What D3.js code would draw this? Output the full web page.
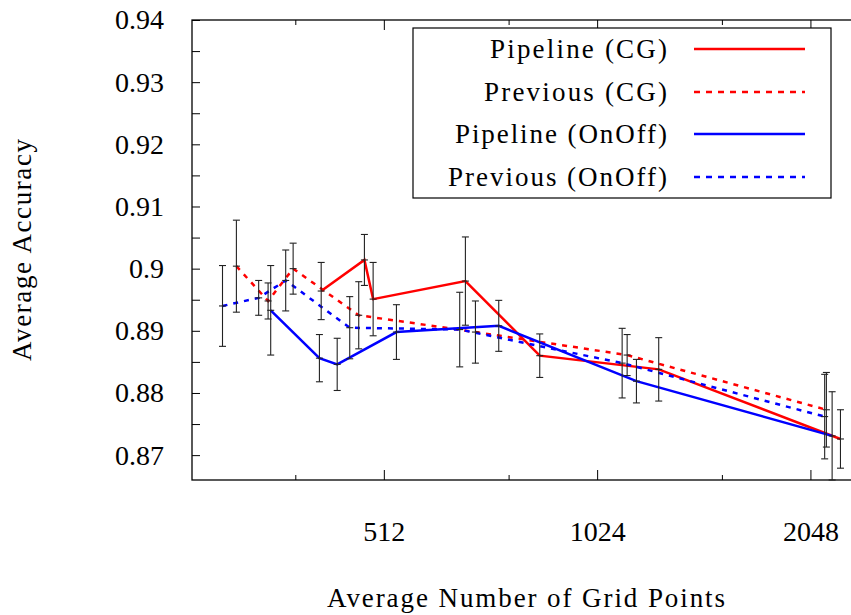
<!DOCTYPE html>
<html><head><meta charset="utf-8">
<script src="https://cdn.jsdelivr.net/npm/d3@7"></script>
<style>
body{margin:0;background:#fff}
svg{display:block}
text{font-family:"Liberation Serif","Times New Roman",serif;fill:#000}
</style>
</head><body>
<svg id="c" width="851" height="615"></svg>
<script>
// ---------- data ----------
const seriesNames = ["Pipeline (CG)", "Previous (CG)", "Pipeline (OnOff)", "Previous (OnOff)"];
const seriesColors = ["#ff0000", "#ff0000", "#0000ff", "#0000ff"];
const seriesDashed = [false, true, false, true];

const pipelineCG_x   = [417.7, 480.7, 494.5, 667.4, 849.8, 1250.9, 2258];
const pipelineCG_y   = [0.8964, 0.9014, 0.8951, 0.8980, 0.8860, 0.8838, 0.8726];
const pipelineCG_err = [0.0046, 0.0041, 0.0059, 0.0071, 0.0035, 0.0051, 0.0047];

const previousCG_x   = [317.1, 351.5, 381.3, 471.9, 689.5, 1128.9, 2157];
const previousCG_y   = [0.9004, 0.8948, 0.9000, 0.8925, 0.8898, 0.8861, 0.8773];
const previousCG_err = [0.0074, 0.0029, 0.0041, 0.0054, 0.0050, 0.0033, 0.0060];

const pipelineOnOff_x   = [354.5, 415.3, 440.0, 533.4, 743.8, 1163.5, 2197.6];
const pipelineOnOff_y   = [0.8933, 0.8856, 0.8846, 0.8898, 0.8908, 0.8819, 0.8731];
const pipelineOnOff_err = [0.0072, 0.0038, 0.0042, 0.0044, 0.0041, 0.0035, 0.0071];

const previousOnOff_x   = [303.1, 340.9, 372.2, 458.3, 655.2, 1110.7, 2145];
const previousOnOff_y   = [0.8940, 0.8953, 0.8981, 0.8905, 0.8902, 0.8848, 0.8762];
const previousOnOff_err = [0.0065, 0.0028, 0.0049, 0.0050, 0.0060, 0.0056, 0.0068];

const xTickValues = [512, 1024, 2048];
const xTickLabels = ["512", "1024", "2048"];
const xMinorTicks = [384, 768, 1536];
const yTickValues = [0.87, 0.88, 0.89, 0.90, 0.91, 0.92, 0.93, 0.94];
const yTickLabels = ["0.87", "0.88", "0.89", "0.9", "0.91", "0.92", "0.93", "0.94"];
const yMinorTicks = [0.875, 0.885, 0.895, 0.905, 0.915, 0.925, 0.935];
const xTitle = "Average Number of Grid Points";
const yTitle = "Average Accuracy";

// ---------- layout ----------
const svg = d3.select("#c");
const mLeft = 192, mTop = 20, mBottom = 480;
const pxPerOctave = 213.3;
const xMin = 274.5, xMax = 2600;
const mRight = mLeft + pxPerOctave * Math.log2(xMax / xMin);

const x = d3.scaleLog().base(2).domain([xMin, xMax]).range([mLeft, mRight]);
const y = d3.scaleLinear().domain([0.866, 0.94]).range([mBottom, mTop]);

const series = [
  {x: pipelineCG_x, y: pipelineCG_y, e: pipelineCG_err},
  {x: previousCG_x, y: previousCG_y, e: previousCG_err},
  {x: pipelineOnOff_x, y: pipelineOnOff_y, e: pipelineOnOff_err},
  {x: previousOnOff_x, y: previousOnOff_y, e: previousOnOff_err}
].map((s, i) => ({
  name: seriesNames[i], color: seriesColors[i], dashed: seriesDashed[i],
  pts: s.x.map((xv, j) => ({x: xv, y: s.y[j], e: s.e[j]}))
}));

// ---------- axes ----------
const fs = 28;
const yAxis = d3.axisLeft(y).tickValues(yTickValues)
  .tickFormat((d, i) => yTickLabels[i]).tickSizeInner(-8).tickSizeOuter(0).tickPadding(28);
const gy = svg.append("g").attr("transform", `translate(${mLeft},0)`).call(yAxis);
gy.select(".domain").remove();
gy.selectAll("text").attr("font-size", fs);

const gyMinor = svg.append("g").attr("transform", `translate(${mLeft},0)`)
  .call(d3.axisLeft(y).tickValues(yMinorTicks).tickFormat("").tickSizeInner(-8).tickSizeOuter(0));
gyMinor.select(".domain").remove();

const xAxis = d3.axisBottom(x).tickValues(xTickValues)
  .tickFormat((d, i) => xTickLabels[i]).tickSizeInner(-10).tickSizeOuter(0).tickPadding(41);
const gx = svg.append("g").attr("transform", `translate(0,${mBottom})`).call(xAxis);
gx.select(".domain").remove();
gx.selectAll("text").attr("font-size", fs);

const gxMinor = svg.append("g").attr("transform", `translate(0,${mBottom})`)
  .call(d3.axisBottom(x).tickValues(xMinorTicks).tickFormat("").tickSizeInner(-5).tickSizeOuter(0));
gxMinor.select(".domain").remove();

const gxTop = svg.append("g").attr("transform", `translate(0,${mTop})`)
  .call(d3.axisTop(x).tickValues(xTickValues).tickFormat("").tickSizeInner(-10).tickSizeOuter(0));
gxTop.select(".domain").remove();
const gxTopMinor = svg.append("g").attr("transform", `translate(0,${mTop})`)
  .call(d3.axisTop(x).tickValues(xMinorTicks).tickFormat("").tickSizeInner(-5).tickSizeOuter(0));
gxTopMinor.select(".domain").remove();

svg.selectAll("g.tick text").attr("font-family", null);
svg.selectAll("g.tick line").attr("stroke", "#000").attr("stroke-width", 1);
svg.selectAll("g").attr("font-family", null);

// frame
svg.append("rect").attr("x", mLeft).attr("y", mTop)
  .attr("width", mRight - mLeft).attr("height", mBottom - mTop)
  .attr("fill", "none").attr("stroke", "#000").attr("stroke-width", 1.3);

// titles
svg.append("text").attr("x", 526).attr("y", 607).attr("text-anchor", "middle")
  .attr("font-size", 27).attr("textLength", 398).attr("lengthAdjust", "spacing").text(xTitle);
svg.append("text").attr("transform", "translate(31,250) rotate(-90)").attr("text-anchor", "middle")
  .attr("font-size", 27).attr("textLength", 222).attr("lengthAdjust", "spacing").text(yTitle);

// ---------- plot ----------
const plot = svg.append("g");
const line = d3.line().x(d => x(d.x)).y(d => y(d.y));

series.forEach(s => {
  plot.append("path").datum(s.pts).attr("d", line)
    .attr("fill", "none").attr("stroke", s.color).attr("stroke-width", 2.5)
    .attr("stroke-dasharray", s.dashed ? "5,6" : null);
});

const cap = 3.5;
series.forEach(s => {
  const g = plot.append("g").attr("stroke", "#222").attr("stroke-width", 1.1);
  s.pts.forEach(p => {
    const cx = x(p.x), y1 = y(p.y + p.e), y0 = y(p.y - p.e), cy = y(p.y);
    g.append("line").attr("x1", cx).attr("x2", cx).attr("y1", y1).attr("y2", y0);
    g.append("line").attr("x1", cx - cap).attr("x2", cx + cap).attr("y1", y1).attr("y2", y1);
    g.append("line").attr("x1", cx - cap).attr("x2", cx + cap).attr("y1", y0).attr("y2", y0);
    g.append("line").attr("x1", cx - cap).attr("x2", cx + cap).attr("y1", cy).attr("y2", cy);
  });
});

// ---------- legend ----------
const leg = svg.append("g");
leg.append("rect").attr("x", 413).attr("y", 28).attr("width", 418).attr("height", 170)
  .attr("fill", "#fff").attr("stroke", "#000").attr("stroke-width", 1.2);
const legRowY = [49, 92, 134, 177];
const legTextW = [177, 183, 212, 219];
series.forEach((s, i) => {
  leg.append("text").attr("x", 667).attr("y", legRowY[i]).attr("dy", "0.33em")
    .attr("text-anchor", "end").attr("font-size", 27)
    .attr("textLength", legTextW[i]).attr("lengthAdjust", "spacing").text(s.name);
  leg.append("line").attr("x1", 694).attr("x2", 805).attr("y1", legRowY[i]).attr("y2", legRowY[i])
    .attr("stroke", s.color).attr("stroke-width", 2.5)
    .attr("stroke-dasharray", s.dashed ? "6,6" : null);
});
</script>
</body></html>
